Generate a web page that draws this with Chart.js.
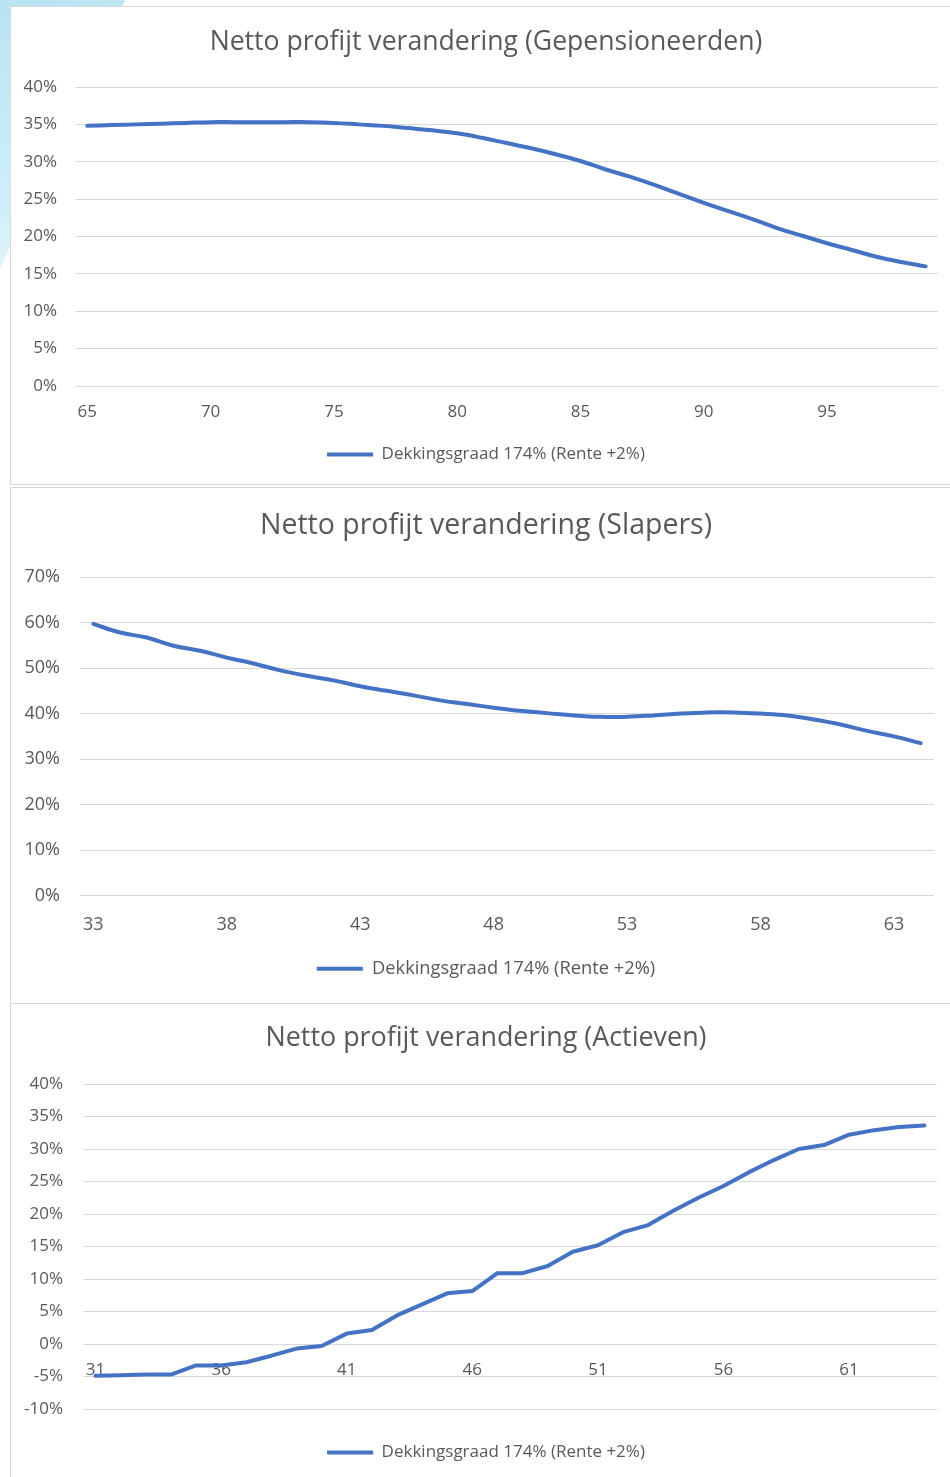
<!DOCTYPE html>
<html>
<head>
<meta charset="utf-8">
<script src="https://cdn.jsdelivr.net/npm/chart.js@4.4.1/dist/chart.umd.min.js"></script>
<style>
  html, body { margin: 0; padding: 0; background: #ffffff; overflow: hidden; }
  body { width: 950px; height: 1477px; position: relative; }
  .deco { position: absolute; left: 0; top: 0; width: 130px; height: 270px;
          background: linear-gradient(160deg, #b9e3f2 0%, #cdeef8 60%, #e6f6fb 100%);
          clip-path: polygon(0 0, 125px 0, 0 268px); }
  .panel { position: absolute; left: 10px; width: 960px; background: #ffffff;
           border: 1px solid #d9d9d9; box-sizing: border-box; }
  .panel canvas { position: absolute; left: 0; top: 0; }
</style>
</head>
<body>
<div class="deco"></div>
<div class="panel" style="top:6px;height:479px;"><canvas id="c1"></canvas></div>
<div class="panel" style="top:487px;height:517px;"><canvas id="c2"></canvas></div>
<div class="panel" style="top:1003px;height:480px;"><canvas id="c3"></canvas></div>
<script>
// Ages (x categories) per group
const agesGepensioneerden = [65,66,67,68,69,70,71,72,73,74,75,76,77,78,79,80,81,82,83,84,85,86,87,88,89,90,91,92,93,94,95,96,97,98,99];
const agesSlapers = [33,34,35,36,37,38,39,40,41,42,43,44,45,46,47,48,49,50,51,52,53,54,55,56,57,58,59,60,61,62,63,64];
const agesActieven = [31,32,33,34,35,36,37,38,39,40,41,42,43,44,45,46,47,48,49,50,51,52,53,54,55,56,57,58,59,60,61,62,63,64];

// Net benefit change in percent, scenario: coverage ratio 174% (interest +2%)
const gepensioneerden = [34.8,34.9,35.0,35.1,35.2,35.3,35.3,35.3,35.3,35.3,35.2,35.0,34.8,34.5,34.2,33.8,33.2,32.5,31.8,31.0,30.1,29.0,28.0,26.9,25.7,24.5,23.4,22.3,21.1,20.1,19.1,18.2,17.3,16.6,16.0];
const slapers = [59.7,57.8,56.7,54.9,53.8,52.3,51.0,49.5,48.3,47.3,46.0,45.0,44.0,42.9,42.1,41.3,40.6,40.1,39.6,39.3,39.3,39.6,40.0,40.25,40.25,40.0,39.6,38.7,37.6,36.2,35.0,33.5];
const actieven = [-4.9,-4.8,-4.7,-4.7,-3.3,-3.3,-2.8,-1.8,-0.7,-0.3,1.6,2.15,4.4,6.1,7.8,8.15,10.9,10.9,12.0,14.2,15.2,17.2,18.3,20.5,22.5,24.3,26.4,28.3,30.0,30.6,32.2,32.9,33.4,33.6];

const seriesName = 'Dekkingsgraad 174% (Rente +2%)';
const titles = [
  'Netto profijt verandering (Gepensioneerden)',
  'Netto profijt verandering (Slapers)',
  'Netto profijt verandering (Actieven)'
];

const BLUE = '#4472c4';
const GRID = '#d9d9d9';
const TEXT = '#595959';
const FONT = "'Open Sans', 'Noto Sans', sans-serif";

function makeChart(id, w, h, cfg) {
  const cv = document.getElementById(id);
  cv.width = w; cv.height = h;
  cv.style.width = w + 'px'; cv.style.height = h + 'px';

  // title box: centre of the text line at cfg.titleCenter, plot area starting at cfg.plotTop
  const titleLine = cfg.titleSize * 1.2;
  const titleTop = cfg.titleCenter - titleLine / 2;
  const titleBottom = cfg.plotTop - titleTop - titleLine;

  const scales = {
    x: {
      type: 'category',
      offset: true,
      grid: { display: false, drawTicks: false },
      border: { display: false },
      ticks: {
        autoSkip: false, maxRotation: 0, minRotation: 0,
        color: TEXT, font: { family: FONT, size: cfg.tickSize },
        padding: cfg.xPad,
        callback: function (v, i) { return i % 5 === 0 ? this.getLabelForValue(v) : null; }
      },
      afterFit: s => { s.height = cfg.xHeight; }
    },
    y: {
      min: cfg.min, max: cfg.max,
      grid: { color: GRID, lineWidth: 1, drawTicks: false },
      border: { display: false },
      ticks: {
        stepSize: cfg.step, color: TEXT, font: { family: FONT, size: cfg.tickSize },
        padding: cfg.yPad,
        callback: v => v + '%'
      },
      afterFit: s => { s.width = cfg.plotLeft; }
    },
    // empty right-hand axis: leaves the white margin right of the plot
    yGap: {
      type: 'linear', position: 'right', display: true,
      grid: { display: false, drawTicks: false }, border: { display: false },
      ticks: { display: false },
      afterFit: s => { s.width = cfg.rightGap; }
    }
  };
  if (cfg.xAtZero) {
    // category labels sit just under the 0% line; an empty bottom axis keeps the gap above the legend
    scales.x.position = { y: 0 };
    scales.x.afterFit = s => { s.height = 0; };
    scales.xGap = {
      type: 'category', position: 'bottom', display: true,
      grid: { display: false, drawTicks: false }, border: { display: false },
      ticks: { display: false },
      afterFit: s => { s.height = cfg.xHeight; }
    };
  }

  return new Chart(cv, {
    type: 'line',
    data: {
      labels: cfg.labels,
      datasets: [{
        label: seriesName,
        data: cfg.data,
        borderColor: BLUE,
        backgroundColor: BLUE,
        borderWidth: 4,
        borderCapStyle: 'round',
        borderJoinStyle: 'round',
        pointRadius: 0,
        tension: cfg.tension,
        fill: false,
        xAxisID: 'x',
        yAxisID: 'y'
      }]
    },
    options: {
      responsive: false,
      animation: false,
      devicePixelRatio: 1,
      layout: { padding: { left: 0, right: 0, top: 0, bottom: cfg.bottomPad } },
      plugins: {
        title: {
          display: true, text: cfg.title, color: TEXT,
          font: { family: FONT, size: cfg.titleSize, weight: '400', lineHeight: 1.2 },
          padding: { top: titleTop, bottom: titleBottom }
        },
        legend: {
          display: true, position: 'bottom',
          labels: {
            color: TEXT, font: { family: FONT, size: cfg.legendSize },
            boxWidth: 46, boxHeight: 4, padding: 10,
            generateLabels: chart => Chart.defaults.plugins.legend.labels.generateLabels(chart)
              .map(l => Object.assign(l, { lineWidth: 0, fillStyle: BLUE }))
          }
        },
        tooltip: { enabled: false }
      },
      scales: scales
    }
  });
}

makeChart('c1', 950, 477, {
  title: titles[0], labels: agesGepensioneerden, data: gepensioneerden, tension: 0.4,
  min: 0, max: 40, step: 5,
  titleSize: 26.6, tickSize: 17, legendSize: 17,
  titleCenter: 35, plotTop: 80,
  plotLeft: 64, rightGap: 23, yPad: 18,
  xHeight: 50, xPad: 16, bottomPad: 11
});
makeChart('c2', 950, 515, {
  title: titles[1], labels: agesSlapers, data: slapers, tension: 0.4,
  min: 0, max: 70, step: 10,
  titleSize: 28.5, tickSize: 18, legendSize: 18.3,
  titleCenter: 38, plotTop: 89,
  plotLeft: 69, rightGap: 27, yPad: 20,
  xHeight: 54, xPad: 18, bottomPad: 15
});
makeChart('c3', 950, 478, {
  title: titles[2], labels: agesActieven, data: actieven, tension: 0,
  min: -10, max: 40, step: 5,
  titleSize: 26.9, tickSize: 17, legendSize: 17,
  titleCenter: 34, plotTop: 80,
  plotLeft: 72, rightGap: 24, yPad: 20,
  xHeight: 25, xPad: 16, bottomPad: 11, xAtZero: true
});
</script>
</body>
</html>
